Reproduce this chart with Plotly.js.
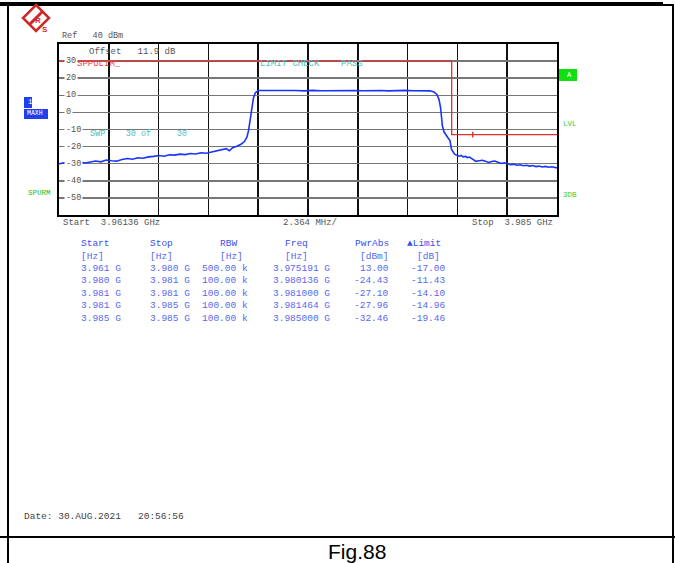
<!DOCTYPE html>
<html><head><meta charset="utf-8">
<script src="https://cdn.plot.ly/plotly-3.0.1.min.js"></script>
<style>html,body{margin:0;padding:0;background:#fff;}#plot{width:675px;height:563px;}</style>
</head><body><div id="plot"></div>
<script>
// ---- data (frequency in MHz, level in dBm) ----
const traceFreq = [3961.36,3961.60,3961.85,3962.10,3962.35,3962.60,3962.85,3963.10,3963.35,3963.60,3963.85,3964.10,3964.35,3964.60,3964.85,3965.10,3965.35,3965.60,3965.85,3966.10,3966.35,3966.60,3966.85,3967.10,3967.35,3967.60,3967.85,3968.10,3968.35,3968.60,3968.85,3969.10,3969.30,3969.45,3969.60,3969.80,3970.00,3970.15,3970.28,3970.36,3970.42,3970.47,3970.52,3970.59,3970.68,3970.82,3971.00,3971.40,3971.80,3972.20,3972.60,3973.00,3973.40,3973.80,3974.20,3974.60,3975.00,3975.19,3975.40,3975.80,3976.20,3976.60,3977.00,3977.40,3977.80,3978.20,3978.60,3978.97,3979.16,3979.30,3979.40,3979.47,3979.52,3979.56,3979.64,3979.73,3979.83,3979.92,3979.99,3980.136,3980.25,3980.35,3980.45,3980.55,3980.65,3980.75,3980.85,3980.95,3981.00,3981.15,3981.30,3981.464,3981.60,3981.75,3981.90,3982.05,3982.20,3982.35,3982.50,3982.65,3982.80,3982.95,3983.10,3983.25,3983.40,3983.55,3983.70,3983.85,3984.00,3984.15,3984.30,3984.45,3984.60,3984.75,3984.90,3985.00];
const traceLevel = [-30.0,-29.5,-30.2,-29.4,-29.0,-29.6,-28.8,-28.4,-28.9,-27.9,-28.3,-28.5,-27.5,-27.0,-27.4,-26.5,-26.8,-26.0,-25.7,-25.2,-25.6,-24.8,-25.0,-24.4,-24.7,-24.0,-24.3,-23.6,-23.9,-23.2,-22.6,-22.0,-21.2,-22.4,-20.6,-19.8,-18.6,-17.2,-14.5,-10.5,-6.0,-1.0,4.0,8.5,11.5,12.8,12.8,12.9,12.7,12.9,12.8,12.6,12.9,12.7,12.8,12.9,12.8,13.0,12.8,12.7,12.9,12.8,12.6,12.8,12.9,12.7,12.8,12.6,12.0,10.5,7.5,3.0,-3.0,-8.0,-11.5,-13.5,-15.0,-16.5,-21.5,-24.43,-25.0,-25.6,-25.2,-26.0,-25.7,-26.4,-26.1,-26.9,-27.10,-28.6,-28.3,-27.96,-28.5,-29.3,-28.7,-28.4,-29.2,-29.9,-29.5,-30.2,-30.6,-30.3,-30.9,-30.6,-31.2,-30.9,-31.4,-31.1,-31.7,-31.4,-31.9,-31.6,-32.1,-31.8,-32.3,-32.46];
const limitFreq = [3961.36,3980.0,3980.0,3985.0];
const limitLevel = [30,30,-13,-13];
const limitMarkFreq = [3981.0];
const limitMarkLevel = [-13];
const yTickVals = [30,20,10,0,-10,-20,-30,-40,-50];
const startMHz = 3961.36, stopMHz = 3985.0, divMHz = 2.364;
const refLevel = 40, bottomLevel = -60;

const tblHeader = ['Start','Stop','RBW','Freq','PwrAbs','\u25B2Limit'];
const tblUnits = ['[Hz]','[Hz]','[Hz]','[Hz]','[dBm]','[dB]'];
const tblStart = ['3.961 G','3.980 G','3.981 G','3.981 G','3.985 G'];
const tblStop = ['3.980 G','3.981 G','3.981 G','3.985 G','3.985 G'];
const tblRBW = ['500.00 k','100.00 k','100.00 k','100.00 k','100.00 k'];
const tblFreq = ['3.975191 G','3.980136 G','3.981000 G','3.981464 G','3.985000 G'];
const tblPwr = ['13.00','-24.43','-27.10','-27.96','-32.46'];
const tblLimit = ['-17.00','-11.43','-14.10','-14.96','-19.46'];

// ---- helpers (pixel -> paper) ----
const W = 675, H = 563;
const X = p => p / W;
const Y = p => 1 - p / H;
const MONO = 'Liberation Mono, Courier New, monospace';
const ann = [];
function txt(t, x, y, opt) {
  opt = opt || {};
  ann.push(Object.assign({
    text: t, xref: 'paper', yref: 'paper', x: X(x), y: Y(y),
    xanchor: 'left', yanchor: 'middle', showarrow: false,
    font: {family: MONO, size: opt.size || 9.5, color: opt.color || '#555'}
  }, opt.extra || {}));
}

// y tick labels inside the grid
yTickVals.forEach(v => {
  ann.push({text: String(v), xref: 'paper', yref: 'y', x: X(64), y: v,
    xanchor: 'left', yanchor: 'middle', showarrow: false, bgcolor: '#fff',
    borderpad: 1, font: {family: MONO, size: 8.5, color: '#555'}});
});

txt('Ref   40 dBm', 60, 36, {size: 8.5});
txt('Offset   11.9 dB', 87, 52, {size: 9});
txt('SPPULIM_', 75, 64, {size: 9, color: '#e04848'});
txt('LIMIT CHECK    PASS', 258, 64, {size: 9, color: '#50c0c0'});
txt('SWP    30 of     30', 88, 134, {size: 8.5, color: '#50c0c0'});
txt('SPURM', 26, 193, {size: 7.5, color: '#20c020'});
txt('LVL', 561, 124, {size: 7.5, color: '#30d030'});
txt('3DB', 561, 195, {size: 7.5, color: '#30d030'});
txt('1', 26, 102, {size: 7.5, color: '#fff'});
txt('MAXH', 25, 114, {size: 6.5, color: '#fff'});
txt('A', 565, 75, {size: 7, color: '#fff'});
txt('Start  3.96136 GHz', 61, 223, {size: 9});
txt('2.364 MHz/', 310, 223, {size: 9, extra: {xanchor: 'center'}});
txt('Stop  3.985 GHz', 555, 223, {size: 9, extra: {xanchor: 'right'}});
txt('Date: 30.AUG.2021   20:56:56', 22, 516, {size: 9.5, color: '#444'});
ann.push({text: 'Fig.88', xref: 'paper', yref: 'paper', x: X(357), y: Y(551),
  xanchor: 'center', yanchor: 'middle', showarrow: false,
  font: {family: 'Liberation Sans, Arial, sans-serif', size: 21, color: '#000'}});

// table
const BLUE = '#5868f0';
const hdrX = [79, 148, 218, 283, 353, 405];
tblHeader.forEach((h, i) => txt(h, hdrX[i], 243, {size: 9.5, color: '#3850f0'}));
const unitX = [79, 148, 218, 283, 358, 415];
tblUnits.forEach((u, i) => txt(u, unitX[i], 256, {size: 9.5, color: BLUE}));
const rowY = [268, 280.5, 293, 305.5, 318];
for (let r = 0; r < tblStart.length; r++) {
  txt(tblStart[r], 79, rowY[r], {size: 9.5, color: BLUE});
  txt(tblStop[r], 148, rowY[r], {size: 9.5, color: BLUE});
  txt(tblRBW[r], 200, rowY[r], {size: 9.5, color: BLUE});
  txt(tblFreq[r], 271, rowY[r], {size: 9.5, color: BLUE});
  txt(tblPwr[r], 391, rowY[r], {size: 9.5, color: BLUE, extra: {xanchor: 'right'}});
  txt(tblLimit[r], 448, rowY[r], {size: 9.5, color: BLUE, extra: {xanchor: 'right'}});
}

// frame & decorations
const shapes = [
  {type: 'line', xref: 'paper', yref: 'paper', x0: 0, x1: X(663), y0: Y(4), y1: Y(4), line: {color: '#000', width: 4}},
  {type: 'line', xref: 'paper', yref: 'paper', x0: X(660), x1: X(674), y0: Y(5), y1: Y(5), line: {color: '#000', width: 2}},
  {type: 'line', xref: 'paper', yref: 'paper', x0: X(673), x1: X(673), y0: Y(5), y1: 0, line: {color: '#000', width: 2}},
  {type: 'line', xref: 'paper', yref: 'paper', x0: X(8), x1: X(8), y0: Y(5), y1: 0, line: {color: '#000', width: 2}},
  {type: 'line', xref: 'paper', yref: 'paper', x0: 0, x1: 1, y0: Y(537), y1: Y(537), line: {color: '#000', width: 2}},
  // boxes
  {type: 'rect', xref: 'paper', yref: 'paper', x0: X(24), x1: X(32), y0: Y(108), y1: Y(97), fillcolor: '#2040f0', line: {width: 0}},
  {type: 'rect', xref: 'paper', yref: 'paper', x0: X(24), x1: X(48), y0: Y(119), y1: Y(109), fillcolor: '#2040f0', line: {width: 0}},
  {type: 'rect', xref: 'paper', yref: 'paper', x0: X(559), x1: X(577), y0: Y(81), y1: Y(69), fillcolor: '#10e010', line: {width: 0}},
  // R&S logo
  {type: 'path', xref: 'paper', yref: 'paper',
    path: `M ${X(36)} ${Y(5)} L ${X(49)} ${Y(18)} L ${X(36)} ${Y(31)} L ${X(23)} ${Y(18)} Z`,
    line: {color: '#d02828', width: 2.5}, fillcolor: '#fff'},
  {type: 'line', xref: 'paper', yref: 'paper', x0: X(29), x1: X(43), y0: Y(25), y1: Y(11), line: {color: '#d02828', width: 3}}
];
ann.push({text: '<b>R</b>', xref: 'paper', yref: 'paper', x: X(33), y: Y(14), showarrow: false,
  font: {family: 'Liberation Sans, Arial', size: 8, color: '#d02828'}});
ann.push({text: '<b>S</b>', xref: 'paper', yref: 'paper', x: X(40), y: Y(23), showarrow: false,
  font: {family: 'Liberation Sans, Arial', size: 8, color: '#d02828'}});

const data = [
  {x: limitFreq, y: limitLevel, type: 'scatter', mode: 'lines', line: {color: '#e03030', width: 1.3}, hoverinfo: 'skip'},
  {x: limitMarkFreq, y: limitMarkLevel, type: 'scatter', mode: 'markers', marker: {symbol: 'line-ns', size: 4, line: {color: '#e03030', width: 1.5}}, hoverinfo: 'skip'},
  {x: traceFreq, y: traceLevel, type: 'scatter', mode: 'lines', line: {color: '#1a34ff', width: 1.6}, hoverinfo: 'skip'}
];

const layout = {
  width: W, height: H, margin: {l: 0, r: 0, t: 0, b: 0},
  paper_bgcolor: '#fff', plot_bgcolor: '#fff', showlegend: false,
  xaxis: {domain: [X(59), X(557)], range: [startMHz, stopMHz], tick0: startMHz, dtick: divMHz,
    showgrid: true, gridcolor: '#111', gridwidth: 1.5, showticklabels: false, ticks: '',
    showline: true, mirror: true, linecolor: '#000', linewidth: 2, zeroline: false, fixedrange: true},
  yaxis: {domain: [Y(215), Y(44)], range: [bottomLevel, refLevel], dtick: 10,
    showgrid: true, gridcolor: '#777', gridwidth: 1.5, showticklabels: false, ticks: '',
    showline: true, mirror: true, linecolor: '#000', linewidth: 2, zeroline: false, fixedrange: true},
  annotations: ann, shapes: shapes
};
Plotly.newPlot('plot', data, layout, {staticPlot: true, displayModeBar: false});
</script></body></html>
